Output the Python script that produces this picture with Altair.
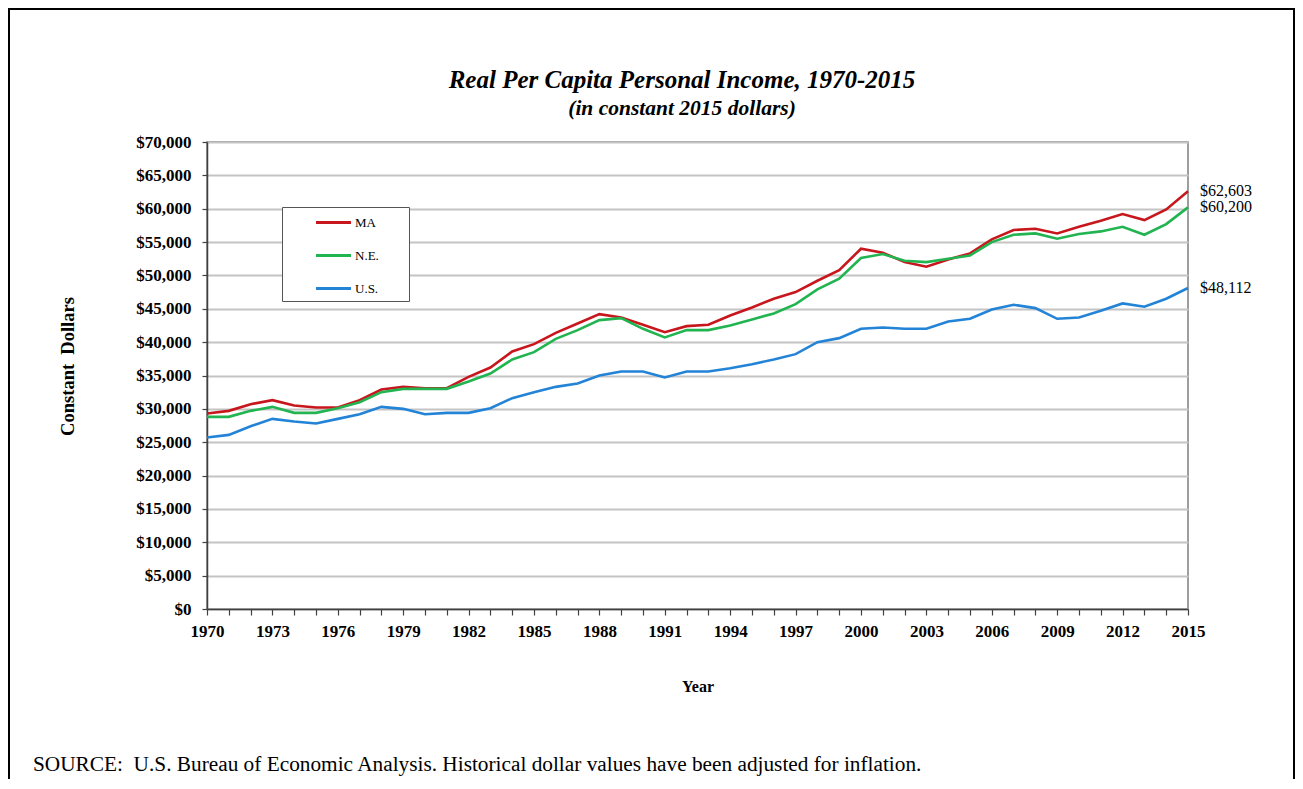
import altair as alt
import pandas as pd

years = list(range(1970, 2016))

ma = [29300, 29700, 30700, 31300, 30500, 30200, 30200, 31300, 32900, 33300,
      33100, 33100, 34800, 36200, 38600, 39700, 41400, 42800, 44200, 43700,
      42600, 41500, 42400, 42600, 44000, 45200, 46500, 47500, 49200, 50800,
      54000, 53400, 52000, 51300, 52400, 53300, 55400, 56800, 57000, 56300,
      57300, 58200, 59200, 58300, 59900, 62603]

ne = [28800, 28800, 29700, 30300, 29400, 29400, 30100, 31000, 32500, 33000,
      33000, 33000, 34100, 35300, 37400, 38500, 40500, 41800, 43300, 43600,
      42000, 40700, 41800, 41800, 42500, 43400, 44300, 45700, 47900, 49500,
      52600, 53200, 52200, 52000, 52500, 53000, 55000, 56100, 56300, 55500,
      56200, 56600, 57300, 56100, 57700, 60200]

us = [25700, 26100, 27400, 28500, 28100, 27800, 28500, 29200, 30300, 30000,
      29200, 29400, 29400, 30100, 31600, 32500, 33300, 33800, 35000, 35600,
      35600, 34700, 35600, 35600, 36100, 36700, 37400, 38200, 40000, 40600,
      42000, 42200, 42000, 42000, 43100, 43500, 44900, 45600, 45100, 43500,
      43700, 44700, 45800, 45300, 46500, 48112]

series_names = ["MA", "N.E.", "U.S."]
series_colors = ["#c8161d", "#22b450", "#2383d6"]
y_ticks = list(range(0, 70001, 5000))

title_text = "Real Per Capita Personal Income, 1970-2015"
subtitle_text = "(in constant 2015 dollars)"
source_text = "SOURCE:\u00a0 U.S. Bureau of Economic Analysis. Historical dollar values have been adjusted for inflation."

rows = []
for name, vals in zip(series_names, [ma, ne, us]):
    for yr, v in zip(years, vals):
        rows.append({"Year": yr, "Income": v, "Series": name})
df = pd.DataFrame(rows)
last = df[df["Year"] == 2015]

SERIF = "Liberation Serif"
W, H = 981, 467


def x_enc():
    return alt.X("Year:Q",
                 scale=alt.Scale(domain=[1970, 2015], nice=False, zero=False),
                 axis=alt.Axis(values=years,
                               labelExpr="(datum.value - 1970) % 3 == 0 ? datum.label : ''",
                               format="d", grid=False, tickSize=6, labelPadding=8,
                               labelOverlap=False, labelFlush=False,
                               title="Year", titlePadding=39))


def y_enc():
    return alt.Y("Income:Q",
                 scale=alt.Scale(domain=[0, 70000], nice=False),
                 axis=alt.Axis(values=y_ticks, format="$,.0f", tickSize=5,
                               labelPadding=11, labelOverlap=False, labelFlush=False,
                               title="Constant\u00a0 Dollars", titlePadding=58,
                               titleFontSize=18.5, titleY=224))


lines = alt.Chart(df).mark_line(strokeWidth=2.6).encode(
    x=x_enc(),
    y=y_enc(),
    color=alt.Color("Series:N",
                    scale=alt.Scale(domain=series_names, range=series_colors),
                    legend=alt.Legend(title="\u00a0", titleOrient="right",
                                      titlePadding=25, titleFontSize=12,
                                      orient="none", legendX=75,
                                      legendY=65, symbolType="M-2,0H2",
                                      symbolSize=306, symbolStrokeWidth=3,
                                      symbolOffset=36, rowPadding=15,
                                      padding=5, labelFont=SERIF,
                                      labelFontSize=13, labelColor="black",
                                      labelOffset=11,
                                      strokeColor="#555555", fillColor="white")),
)

end_labels = alt.Chart(last).mark_text(
    align="left", baseline="middle", dx=12, font=SERIF, fontSize=16, color="black"
).encode(
    x=x_enc(),
    y=y_enc(),
    text=alt.Text("Income:Q", format="$,.0f"),
)

frame = alt.Chart(pd.DataFrame({"k": [0]})).mark_rect(
    fill=None, stroke="black", strokeWidth=2
).encode(
    x=alt.value(-198), x2=alt.value(W + 106),
    y=alt.value(-133), y2=alt.value(H + 300),
)

title_mark = alt.Chart(pd.DataFrame({"t": [title_text]})).mark_text(
    align="center", baseline="alphabetic", font=SERIF, fontSize=25,
    fontStyle="italic", fontWeight="bold", color="black"
).encode(x=alt.value(475), y=alt.value(-54), text="t:N")

subtitle_mark = alt.Chart(pd.DataFrame({"t": [subtitle_text]})).mark_text(
    align="center", baseline="alphabetic", font=SERIF, fontSize=21.5,
    fontStyle="italic", fontWeight="bold", color="black"
).encode(x=alt.value(475), y=alt.value(-27), text="t:N")

source = alt.Chart(pd.DataFrame({"t": [source_text]})).mark_text(
    align="left", baseline="alphabetic", font=SERIF, fontSize=21.3, color="black"
).encode(x=alt.value(-174), y=alt.value(629), text="t:N")

chart = alt.layer(frame, lines, end_labels, title_mark, subtitle_mark, source).properties(
    width=W, height=H,
    background="white",
    autosize=alt.AutoSizeParams(type="none"),
    padding={"left": 199, "top": 134, "right": 107, "bottom": 170},
).configure_view(
    stroke="#7f7f7f", strokeWidth=1.5
).configure_axis(
    labelFont=SERIF, labelFontSize=17, labelFontWeight="bold", labelColor="black",
    titleFont=SERIF, titleFontSize=16, titleFontWeight="bold", titleColor="black",
    domainColor="#404040", domainWidth=1.5, tickColor="#404040", tickWidth=1.2,
    gridColor="#c4c4c4", gridWidth=2,
)

chart.save("out.html", embed_options={"renderer": "svg", "actions": False})
